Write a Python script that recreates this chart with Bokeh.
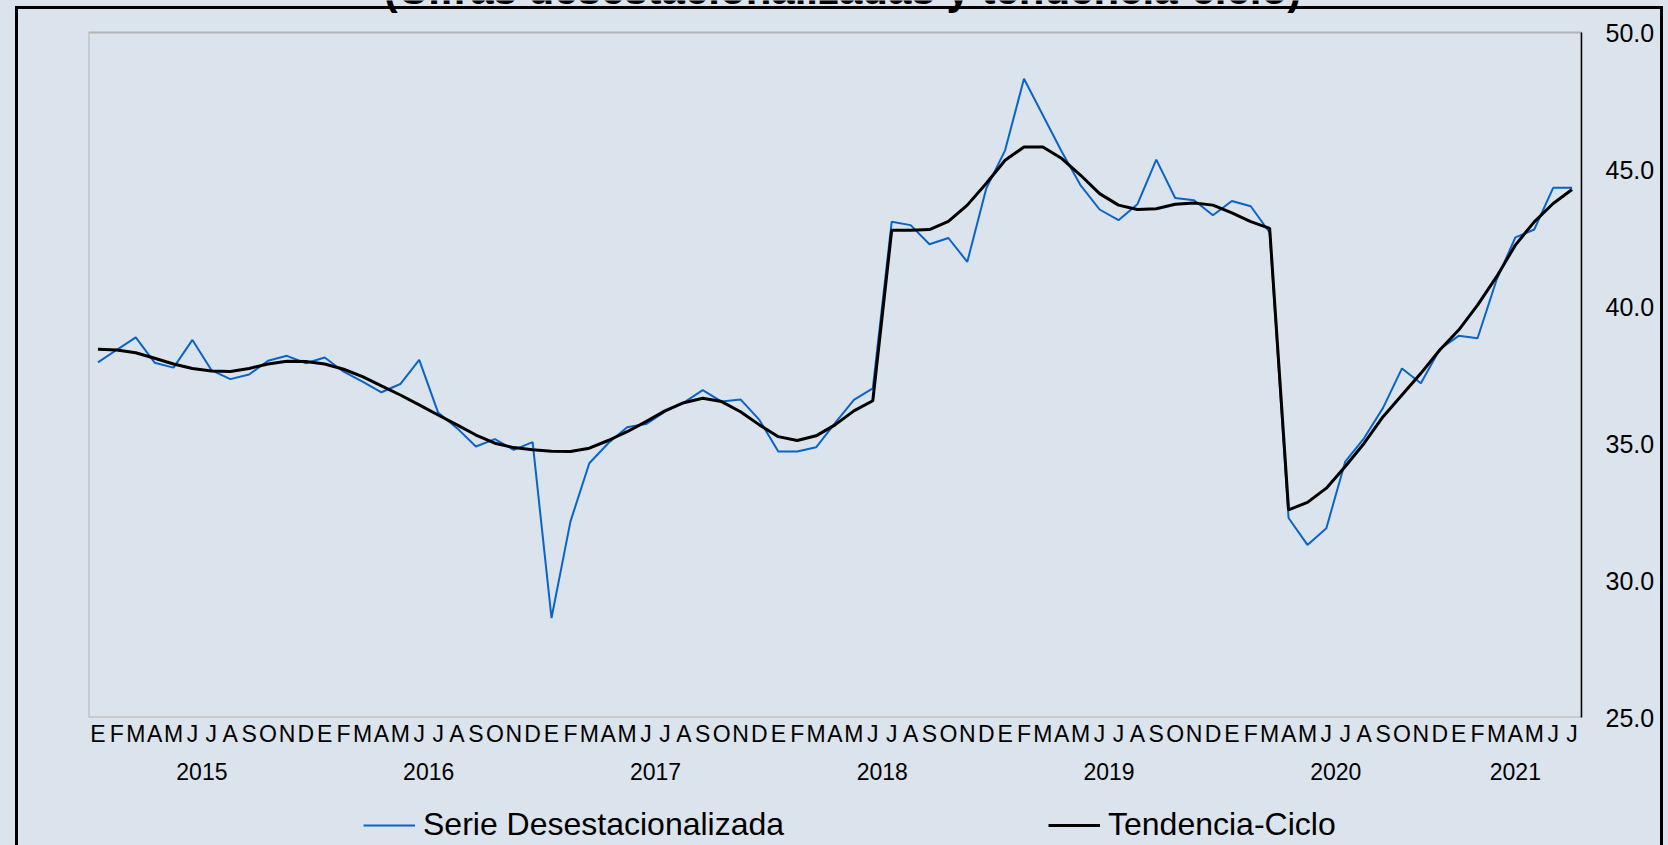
from bokeh.plotting import figure
from bokeh.layouts import column
from bokeh.models import (Range1d, LinearAxis, FixedTicker, NumeralTickFormatter,
                          Legend, LegendItem, Label, AllLabels, InlineStyleSheet)
from bokeh.embed import file_html
from bokeh.resources import INLINE

# ---------------- data ----------------
month_letters = ["E", "F", "M", "A", "M", "J", "J", "A", "S", "O", "N", "D"]
years = ["2015", "2016", "2017", "2018", "2019", "2020", "2021"]
months_per_year = [12, 12, 12, 12, 12, 12, 7]

serie_desestacionalizada = [
    37.96, 38.42, 38.87, 37.95, 37.77, 38.78, 37.68, 37.35, 37.52, 38.02, 38.20, 37.93,
    38.14, 37.62, 37.26, 36.87, 37.17, 38.05, 36.13, 35.56, 34.89, 35.16, 34.77, 35.05,
    28.63, 32.15, 34.28, 35.01, 35.59, 35.71, 36.16, 36.49, 36.95, 36.53, 36.61, 35.86,
    34.71, 34.71, 34.86, 35.74, 36.59, 37.01, 43.09, 42.97, 42.27, 42.50, 41.63, 44.30,
    45.70, 48.31, 46.98, 45.65, 44.42, 43.54, 43.15, 43.73, 45.36, 43.96, 43.88, 43.33,
    43.85, 43.66, 42.70, 32.28, 31.30, 31.91, 34.34, 35.20, 36.30, 37.74, 37.20, 38.44,
    38.93, 38.84, 40.96, 42.52, 42.81, 44.33, 44.33,
]
tendencia_ciclo = [
    38.44, 38.41, 38.31, 38.11, 37.90, 37.74, 37.65, 37.63, 37.74, 37.90, 38.00, 37.99,
    37.90, 37.71, 37.44, 37.10, 36.77, 36.41, 36.04, 35.68, 35.31, 35.01, 34.85, 34.77,
    34.72, 34.71, 34.83, 35.11, 35.43, 35.80, 36.19, 36.49, 36.65, 36.53, 36.16, 35.68,
    35.25, 35.11, 35.28, 35.68, 36.19, 36.56, 42.78, 42.78, 42.81, 43.11, 43.70, 44.49,
    45.34, 45.82, 45.82, 45.40, 44.79, 44.12, 43.70, 43.54, 43.57, 43.73, 43.78, 43.70,
    43.42, 43.10, 42.85, 32.58, 32.85, 33.37, 34.16, 35.01, 35.98, 36.77, 37.56, 38.41,
    39.14, 40.05, 41.08, 42.24, 43.09, 43.76, 44.27,
]
y_min, y_max = 25, 50
y_ticks = [25, 30, 35, 40, 45, 50]
title_text = "(Cifras desestacionalizadas y tendencia-ciclo)"
legend_labels = ["Serie Desestacionalizada", "Tendencia-Ciclo"]

# ---------------- layout constants ----------------
W = 1668
H_MAIN, H_LEG = 790, 55
FRAME_LEFT, FRAME_RIGHT_BORDER, FRAME_BOTTOM_BORDER = 88, 87, 73
PLOT_TOP_PX = 32            # top of the value area, below the frame's top edge
BG = "#dbe3ec"
FONT = "Liberation Sans"
BLUE = "#0a64c8"

# ---------------- derived ----------------
x = list(range(len(serie_desestacionalizada)))
x_lo, x_hi = -0.5, len(x) - 0.5
month_overrides = {i: month_letters[i % 12] for i in x}
year_centers = []
start = 0
for n in months_per_year:
    year_centers.append(start + (n - 1) / 2)
    start += n
year_overrides = {c: yr for c, yr in zip(year_centers, years)}

frame_h = H_MAIN - FRAME_BOTTOM_BORDER
value_h = frame_h - PLOT_TOP_PX
y_top = y_max + PLOT_TOP_PX * (y_max - y_min) / value_h

# ---------------- main chart ----------------
p = figure(width=W, height=H_MAIN,
           x_range=Range1d(x_lo, x_hi), y_range=Range1d(y_min, y_top),
           output_backend="svg", toolbar_location=None,
           x_axis_location=None, y_axis_location=None,
           min_border_left=FRAME_LEFT, min_border_right=FRAME_RIGHT_BORDER,
           min_border_top=0, min_border_bottom=FRAME_BOTTOM_BORDER,
           background_fill_color=None, border_fill_color=BG,
           outline_line_color=None)
for g in p.grid:
    g.visible = False

# light grey border of the value area
p.quad(left=[x_lo], right=[x_hi], bottom=[y_min], top=[y_max],
       fill_alpha=0, line_color="#b4b4b4", line_width=2)

yax = LinearAxis(ticker=FixedTicker(ticks=y_ticks), bounds=(y_min, y_max),
                 formatter=NumeralTickFormatter(format="0.0"),
                 major_tick_out=0, major_tick_in=0,
                 minor_tick_out=0, minor_tick_in=0,
                 major_label_standoff=24,
                 axis_line_color="black", axis_line_width=1.5,
                 major_label_text_font=FONT, major_label_text_font_size="25px",
                 major_label_text_color="black")
p.add_layout(yax, "right")

xax = LinearAxis(ticker=FixedTicker(ticks=x), major_label_overrides=month_overrides,
                 major_label_policy=AllLabels(),
                 axis_line_color=None, major_tick_line_color=None, minor_tick_line_color=None,
                 major_tick_out=0, major_tick_in=0, minor_tick_out=0, minor_tick_in=0,
                 major_label_standoff=3,
                 major_label_text_font=FONT, major_label_text_font_size="23px",
                 major_label_text_color="black")
p.add_layout(xax, "below")

yrax = LinearAxis(ticker=FixedTicker(ticks=year_centers), major_label_overrides=year_overrides,
                  major_label_policy=AllLabels(),
                  axis_line_color=None, major_tick_line_color=None, minor_tick_line_color=None,
                  major_tick_out=0, major_tick_in=0, minor_tick_out=0, minor_tick_in=0,
                  major_label_standoff=13,
                  major_label_text_font=FONT, major_label_text_font_size="23px",
                  major_label_text_color="black")
p.add_layout(yrax, "below")

p.line(x, serie_desestacionalizada, line_color=BLUE, line_width=2)
p.line(x, tendencia_ciclo, line_color="black", line_width=3)

# title, mostly above the top edge of the page as in the original
title = Label(x=754, y=frame_h + 11.5, x_units="screen", y_units="screen", text=title_text,
              text_font=FONT, text_font_style="bold", text_font_size="42px",
              text_align="center", text_baseline="alphabetic", text_color="black")
p.add_layout(title)

# ---------------- legend strip ----------------
q = figure(width=W, height=H_LEG, x_range=Range1d(0, 1), y_range=Range1d(0, 1),
           output_backend="svg", toolbar_location=None,
           x_axis_location=None, y_axis_location=None,
           min_border_left=0, min_border_right=0, min_border_top=0, min_border_bottom=0,
           background_fill_color=None, border_fill_color=BG, outline_line_color=None)
for g in q.grid:
    g.visible = False
# same series (outside this strip's visible range) only feed the legend samples
l1 = q.line(x, serie_desestacionalizada, line_color=BLUE, line_width=2)
l2 = q.line(x, tendencia_ciclo, line_color="black", line_width=3)
legend = Legend(items=[LegendItem(label=legend_labels[0], renderers=[l1]),
                       LegendItem(label=legend_labels[1], renderers=[l2])],
                location=(275, 2), orientation="horizontal",
                glyph_width=52, glyph_height=20, label_standoff=8,
                label_width=473, spacing=152,
                padding=0, margin=0, border_line_alpha=0, background_fill_alpha=0,
                label_text_font=FONT, label_text_font_size="32px",
                label_text_color="black")
q.add_layout(legend)

frame_css = InlineStyleSheet(css="""
:host { position: relative; }
:host::after {
  content: ""; position: absolute; left: 15px; top: 6px;
  width: 1648px; height: 839px; box-sizing: border-box;
  border: 3px solid #000; border-bottom: none;
  pointer-events: none; z-index: 100;
}
""")
layout = column(p, q, spacing=0, stylesheets=[frame_css],
                styles={"background-color": BG})

open("out.html", "w").write(file_html(layout, INLINE))
